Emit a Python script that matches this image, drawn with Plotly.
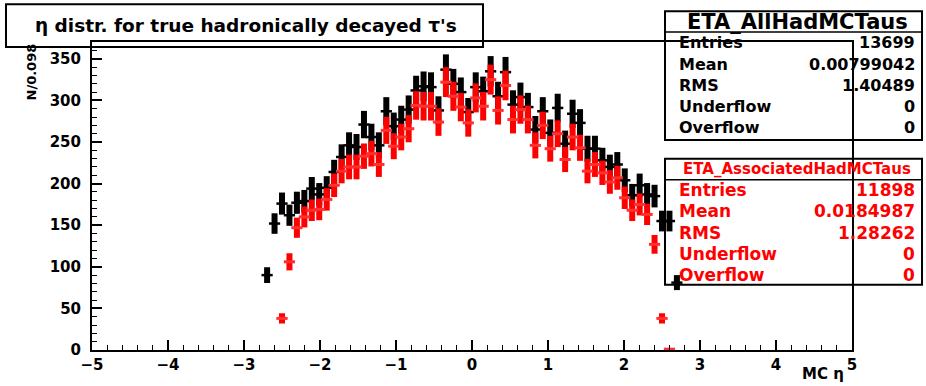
import math
import plotly.graph_objects as go

# ---------------- data ----------------
N_BINS = 102
X_MIN, X_MAX = -5.0, 5.0

ALL_FIRST_BIN = 23
all_counts = [90, 152, 176, 162, 177, 179, 194, 187, 195, 214,
              232, 246, 244, 271, 256, 246, 287, 269, 277, 289,
              312, 317, 316, 288, 337, 320, 310, 286, 316, 311,
              335, 305, 334, 295, 304, 292, 265, 287, 261, 291,
              248, 284, 273, 242, 242, 228, 220, 223, 204, 186,
              198, 187, 185, 155, 155, 81]

ASSOC_FIRST_BIN = 25
assoc_counts = [38, 106, 147, 160, 168, 169, 181, 198,
                215, 220, 220, 233, 236, 223, 264, 245, 256, 266,
                294, 293, 293, 274, 322, 305, 292, 273, 303, 293,
                325, 288, 318, 277, 289, 277, 246, 270, 242, 260,
                229, 256, 243, 215, 223, 213, 202, 207, 183, 168,
                175, 163, 127, 38, 1]

stat_labels = ["Entries", "Mean", "RMS", "Underflow", "Overflow"]
all_name = "ETA_AllHadMCTaus"
all_stats = ["13699", "0.00799042", "1.40489", "0", "0"]
assoc_name = "ETA_AssociatedHadMCTaus"
assoc_stats = ["11898", "0.0184987", "1.28262", "0", "0"]

title_text = "\u03b7 distr. for true hadronically decayed \u03c4's"
x_title = "MC \u03b7"
y_title = "N/0.098"

# ---------------- helpers ----------------
bin_width = (X_MAX - X_MIN) / N_BINS


def centers(first, n):
    return [X_MIN + (first + k + 0.5) * bin_width for k in range(n)]


W, H = 926, 386
L, R, T, B = 92, 852, 42, 353


def px(x):
    return (x - L) / (R - L)


def py(y):
    return (B - y) / (B - T)


FONT = "DejaVu Sans"

fig = go.Figure()

fig.add_trace(go.Scatter(
    x=centers(ALL_FIRST_BIN, len(all_counts)), y=all_counts, mode="markers",
    error_y=dict(type="data", array=[math.sqrt(v) for v in all_counts],
                 thickness=6, width=0, color="black"),
    marker=dict(symbol="line-ew", size=8, color="black",
                line=dict(color="black", width=2.5)),
    showlegend=False))

fig.add_trace(go.Scatter(
    x=centers(ASSOC_FIRST_BIN, len(assoc_counts)), y=assoc_counts, mode="markers",
    error_y=dict(type="data", array=[math.sqrt(v) for v in assoc_counts],
                 thickness=6, width=0, color="#ff0000"),
    marker=dict(symbol="line-ew", size=8, color="#ff0000",
                line=dict(color="#ff3030", width=3)),
    showlegend=False))

shapes = []
annotations = []

# title box
shapes.append(dict(type="rect", xref="paper", yref="paper",
                   x0=px(6), x1=px(483), y0=py(47), y1=py(4),
                   line=dict(color="black", width=2), fillcolor="rgba(0,0,0,0)"))
annotations.append(dict(xref="paper", yref="paper", x=px(246), y=py(25),
                        text=title_text, showarrow=False,
                        font=dict(family=FONT, size=18.5, color="black", weight="bold"),
                        xanchor="center", yanchor="middle"))


def stat_box(y_top, y_sep, y_bot, name, name_size, name_y, rows_y, values, color, row_size):
    shapes.append(dict(type="rect", xref="paper", yref="paper",
                       x0=px(665), x1=px(922), y0=py(y_bot), y1=py(y_top),
                       line=dict(color="black", width=2), fillcolor="rgba(0,0,0,0)"))
    shapes.append(dict(type="line", xref="paper", yref="paper",
                       x0=px(665), x1=px(922), y0=py(y_sep), y1=py(y_sep),
                       line=dict(color="black", width=1.5)))
    annotations.append(dict(xref="paper", yref="paper", x=px(797), y=py(name_y),
                            text=name, showarrow=False,
                            font=dict(family=FONT, size=name_size, color=color, weight="bold"),
                            xanchor="center", yanchor="middle"))
    for lab, val, yy in zip(stat_labels, values, rows_y):
        annotations.append(dict(xref="paper", yref="paper", x=px(677), y=py(yy),
                                text=lab, showarrow=False,
                                font=dict(family=FONT, size=row_size, color=color, weight="bold"),
                                xanchor="left", yanchor="middle"))
        annotations.append(dict(xref="paper", yref="paper", x=px(917), y=py(yy),
                                text=val, showarrow=False,
                                font=dict(family=FONT, size=row_size, color=color, weight="bold"),
                                xanchor="right", yanchor="middle"))


stat_box(11, 32, 141, all_name, 21, 22, [43, 64.5, 85.5, 107, 128], all_stats, "black", 16)
stat_box(160, 181, 287, assoc_name, 15, 170, [191.5, 213, 234.5, 256, 277], assoc_stats, "#ff0000", 17)

# axis titles
annotations.append(dict(xref="paper", yref="paper", x=px(845), y=py(387),
                        text=x_title, showarrow=False, borderpad=0,
                        font=dict(family=FONT, size=15, color="black", weight="bold"),
                        xanchor="right", yanchor="bottom"))
annotations.append(dict(xref="paper", yref="paper", x=px(31), y=py(42),
                        text=y_title, showarrow=False, textangle=-90,
                        font=dict(family=FONT, size=13, color="black", weight="bold"),
                        xanchor="center", yanchor="top"))

tickfont = dict(family=FONT, size=15, color="black", weight="bold")

fig.update_layout(
    width=W, height=H,
    margin=dict(l=L, r=W - R, t=T, b=H - B, pad=0),
    paper_bgcolor="white", plot_bgcolor="white",
    shapes=shapes, annotations=annotations,
    xaxis=dict(range=[X_MIN, X_MAX], tick0=-5, dtick=1, ticks="inside",
               ticklen=10, tickwidth=1.5, tickcolor="black",
               showline=True, linewidth=2, linecolor="black", mirror=True,
               showgrid=False, zeroline=False, tickfont=tickfont,
               ticklabelstandoff=0,
               minor=dict(dtick=0.2, ticks="inside", ticklen=5, tickwidth=1.2,
                          tickcolor="black", showgrid=False)),
    yaxis=dict(range=[0, (B - T) / 0.84], tick0=0, dtick=50, ticks="inside",
               ticklen=10, tickwidth=1.5, tickcolor="black",
               showline=True, linewidth=2, linecolor="black", mirror=True,
               showgrid=False, zeroline=False, tickfont=tickfont,
               ticklabelstandoff=6,
               minor=dict(dtick=10, ticks="inside", ticklen=5, tickwidth=1.2,
                          tickcolor="black", showgrid=False)),
)

fig.write_html("out.html")
